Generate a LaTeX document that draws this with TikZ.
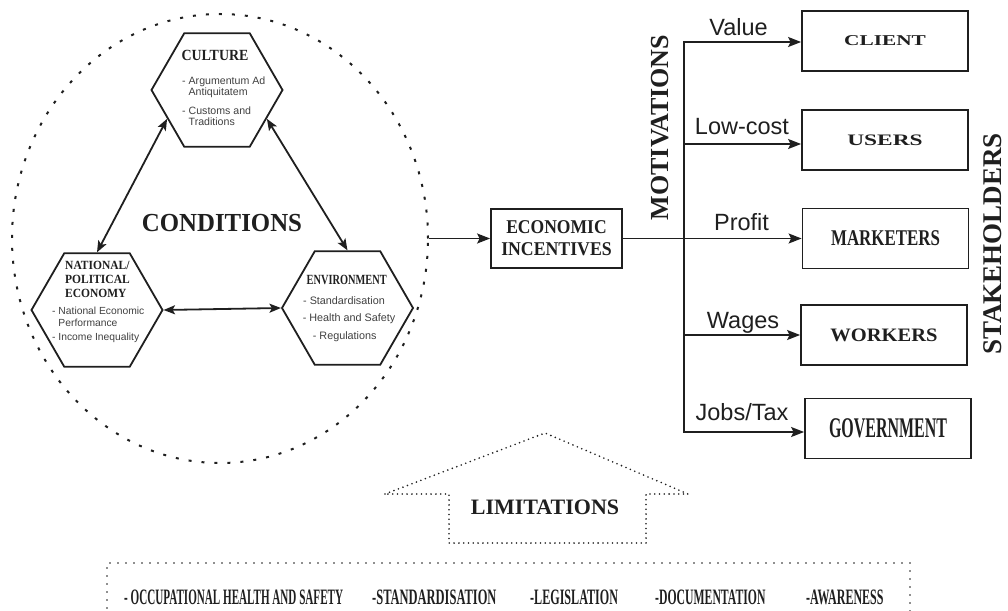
\documentclass[tikz,border=0pt]{standalone}
\usepackage{fontspec}
\setmainfont{Liberation Serif}
\setsansfont{Liberation Sans}
\usepackage{graphicx}
\usetikzlibrary{shapes.geometric,arrows.meta}
\newcommand{\fsz}[1]{\fontsize{#1bp}{#1bp}\selectfont}
\newcommand{\hsq}[2]{\scalebox{#1}[1]{#2}}
\definecolor{ink}{gray}{0.12}
\definecolor{itemc}{gray}{0.25}
\tikzset{
  txt/.style={inner sep=0pt, text=ink},
  ln/.style={draw=ink, line width=1.8bp},
  arr/.style={ln, -{Stealth[length=13bp,width=10bp,inset=2.5bp]}},
  darr/.style={ln, {Stealth[length=11.5bp,width=9bp,inset=2.5bp]}-{Stealth[length=11.5bp,width=9bp,inset=2.5bp]}},
  hexa/.style={regular polygon, regular polygon sides=6, minimum size=131bp, inner sep=0pt, draw=ink, line width=1.8bp},
  sbox/.style={rectangle, draw=ink, line width=1.8bp, minimum width=166bp, minimum height=60bp, inner sep=0pt, text=ink, font=\bfseries},
  head/.style={txt, font=\bfseries, anchor=base},
  headl/.style={txt, font=\bfseries\fsz{12.5}, anchor=base west},
  item/.style={inner sep=0pt, text=itemc, font=\sffamily\fsz{10.6}, anchor=base west},
  itemc/.style={inner sep=0pt, text=itemc, font=\sffamily\fsz{10.8}, anchor=base},
  lab/.style={txt, font=\sffamily\fsz{23.5}, anchor=base},
  lim/.style={txt, font=\bfseries\fsz{22}, anchor=base west},
  bigdots/.style={draw=ink, line width=2bp, dash pattern=on 3bp off 10bp},
  finedots/.style={draw=ink, line width=1.8bp, line cap=round, dash pattern=on 0bp off 4.8bp},
  sparsedots/.style={draw=ink, line width=1.8bp, line cap=round, dash pattern=on 0bp off 8bp},
}
\begin{document}
\begin{tikzpicture}[x=1bp,y=-1bp]
\useasboundingbox (0,0) rectangle (1008,611);

% conditions circle
\node[ellipse, bigdots, minimum width=416bp, minimum height=449bp, inner sep=0pt] (cond) at (220,238.5) {};
\node[head, font=\bfseries\fsz{26}] (condt) at (222,232) {\hsq{0.955}{CONDITIONS}};

% hexagons
\node[hexa] (cul) at (217,90) {};
\node[hexa] (nat) at (97,310) {};
\node[hexa] (env) at (347.5,308) {};

\node[head] (culh) at (215,61) {\fsz{15.5}\hsq{0.9}{CULTURE}};
\node[item] (cu1) at (182,85) {- Argumentum Ad};
\node[item] (cu2) at (182,96) {\phantom{- }Antiquitatem};
\node[item] (cu3) at (182,115) {- Customs and};
\node[item] (cu4) at (182,126) {\phantom{- }Traditions};

\node[headl] (nah1) at (65,270) {\hsq{0.92}{NATIONAL/}};
\node[headl] (nah2) at (65,283.5) {\hsq{0.92}{POLITICAL}};
\node[headl] (nah3) at (65,297.5) {\hsq{0.92}{ECONOMY}};
\node[item, font=\sffamily\fsz{10.3}] (na1) at (52,314.5) {- National Economic};
\node[item, font=\sffamily\fsz{10.3}] (na2) at (52,326.5) {\phantom{- }Performance};
\node[item, font=\sffamily\fsz{10.3}] (na3) at (52,340.5) {- Income Inequality};

\node[head] (envh) at (346.7,284.3) {\fsz{14}\hsq{0.74}{ENVIRONMENT}};
\node[itemc] (en1) at (344,304) {- Standardisation};
\node[itemc] (en2) at (349,321.7) {- Health and Safety};
\node[itemc] (en3) at (344.7,339) {- Regulations};

\draw[darr] (cul.210) -- (nat.north);
\draw[darr] (cul.330) -- (env.north);
\draw[darr] (nat.east) -- (env.west);

% economic incentives
\node[rectangle, draw=ink, line width=1.8bp, minimum width=131bp, minimum height=59bp, inner sep=0pt, align=center, text=ink, font=\bfseries\fontsize{19.5bp}{22bp}\selectfont] (econ) at (556.5,238.5) {\hsq{0.9}{ECONOMIC}\\\hsq{0.91}{INCENTIVES}};
\draw[arr] (cond.east) -- (econ.west);

% stakeholders
\node[sbox] (client) at (885,41) {\fsz{15}\hsq{1.42}{CLIENT}};
\node[sbox] (users) at (885,140) {\fsz{16}\hsq{1.46}{USERS}};
\node[sbox] (mark) at (885.5,238.5) {\fsz{22.5}\hsq{0.75}{MARKETERS}};
\node[sbox] (work) at (884,335) {\fsz{19}\hsq{1.08}{WORKERS}};
\node[sbox] (gov) at (888,428.5) {\fsz{28.5}\hsq{0.56}{GOVERNMENT}};

\coordinate (tA) at (684,42);
\coordinate (tB) at (684,144);
\coordinate (tD) at (684,335);
\coordinate (tE) at (684,432);
\draw[ln] (tA) -- (tE);
\draw[arr] (tB) -- (tA) -- (tA -| client.west);
\draw[arr] (tB) -- (tB -| users.west);
\draw[arr] (econ.east) -- (econ.east -| mark.west);
\draw[arr] (tD) -- (tD -| work.west);
\draw[arr] (tD) -- (tE) -- (tE -| gov.west);

\node[lab] (lv) at (738.5,36) {Value};
\node[lab] (ll) at (742,135) {Low-cost};
\node[lab] (lp) at (741.5,231) {Profit};
\node[lab] (lw) at (743,328) {Wages};
\node[lab] (lj) at (742,420) {Jobs/Tax};

\node[txt, font=\bfseries\fsz{26}, rotate=90] (mot) at (660,127.5) {MOTIVATIONS};
\node[txt, font=\bfseries\fsz{27}, rotate=90] (stake) at (993,244) {STAKEHOLDERS};

% limitations
\draw[finedots] (385,494) -- (545,433) -- (688,494) -- (646,494) -- (646,543) -- (449,543) -- (449,494) -- cycle;
\node[head, font=\bfseries\fsz{22}] (limt) at (545,514) {LIMITATIONS};

\draw[sparsedots] (107,616) -- (107,563) -- (910,563) -- (910,616);
\node[lim] (b1) at (124,604) {\hsq{0.505}{- OCCUPATIONAL HEALTH AND SAFETY}};
\node[lim] (b2) at (372,604) {\hsq{0.567}{-STANDARDISATION}};
\node[lim] (b3) at (530,604) {\hsq{0.55}{-LEGISLATION}};
\node[lim] (b4) at (655,604) {\hsq{0.533}{-DOCUMENTATION}};
\node[lim] (b5) at (806,604) {\hsq{0.545}{-AWARENESS}};
\end{tikzpicture}
\end{document}
